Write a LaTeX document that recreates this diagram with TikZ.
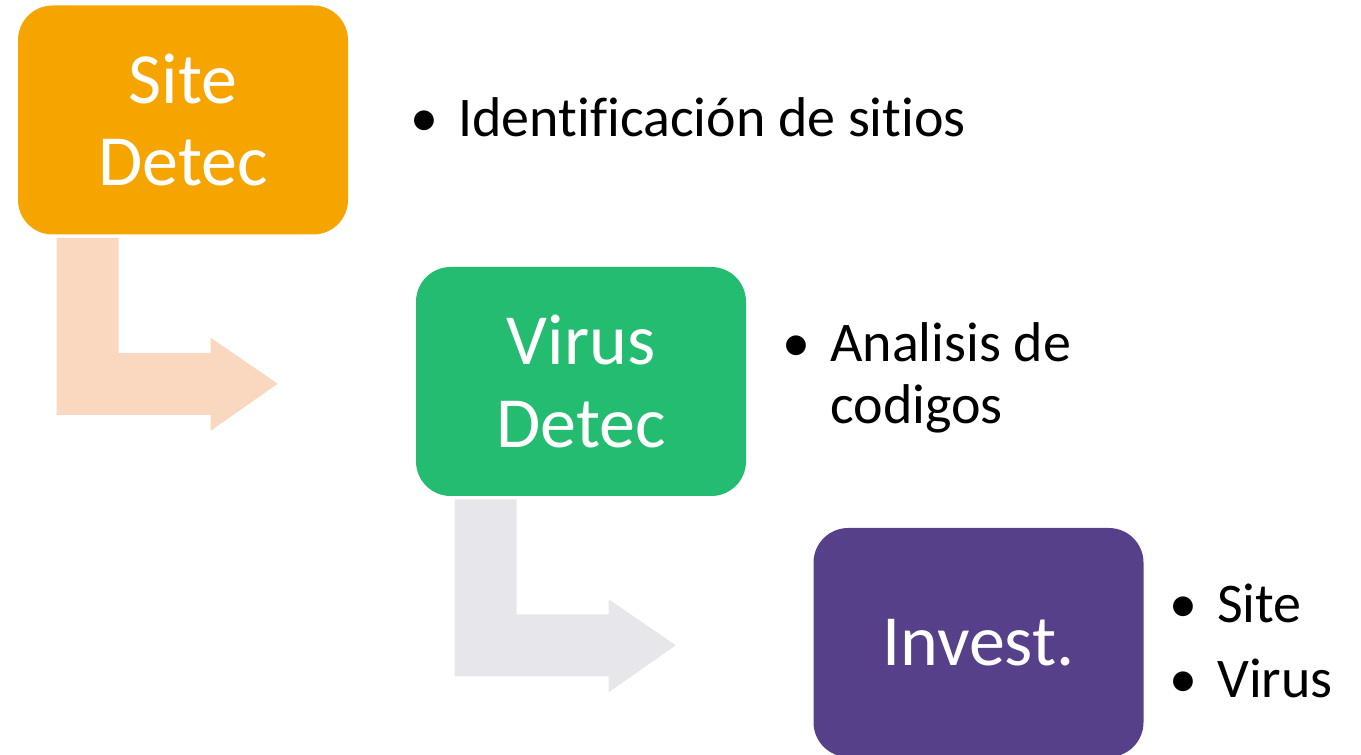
\documentclass[tikz,border=0pt]{standalone}
\usepackage{fontspec}
\setmainfont{Carlito}[Ligatures={NoCommon}]

\definecolor{siteorange}{HTML}{F5A400}
\definecolor{virusgreen}{HTML}{24BC70}
\definecolor{investpurple}{HTML}{56408A}
\definecolor{arrowpeach}{HTML}{F9D8BF}
\definecolor{arrowgrey}{HTML}{E7E6EB}

\newcommand{\itm}{\llap{\textbullet\hspace{15pt}}}

\tikzset{
  stage/.style={rectangle, rounded corners=26pt, minimum width=247.5pt, minimum height=171.75pt,
    inner sep=0pt, text=white, align=center, font=\fontsize{54}{62}\selectfont},
  item/.style={anchor=base west, inner sep=0pt, align=left, font=\fontsize{42}{46.5}\selectfont},
  bentarrow/.pic={
    \fill[#1] (39,3) -- (101,3) -- (101,118) -- (193,118) -- (193,103) -- (260,149)
      -- (193,196) -- (193,180) -- (39,180) -- cycle;
  }
}

\begin{document}
\begin{tikzpicture}[x=0.75pt, y=-0.75pt]

\useasboundingbox (0,0) rectangle (1361,755);

% Boxes of the three stages
\node[stage, fill=siteorange] (site) at (183,120) {Site\\Detec};
\node[stage, fill=virusgreen] (virus) at (581,381.5) {Virus\\Detec};
\node[stage, fill=investpurple] (invest) at (978.5,642.5) {Invest.};

% Bent arrows from one stage to the next
\pic at (site.south west) {bentarrow=arrowpeach};
\pic at (virus.south west) {bentarrow=arrowgrey};

% Bullet texts
\node[item] (sitetext) at (458,137) {\itm Identificación de sitios};
\node[item] (virustext) at (830,424) {\itm Analisis de\\codigos};
\node[item] (investsite) at (1217,622) {\itm Site};
\node[item] (investvirus) at (1217,697) {\itm Virus};

\end{tikzpicture}
\end{document}
